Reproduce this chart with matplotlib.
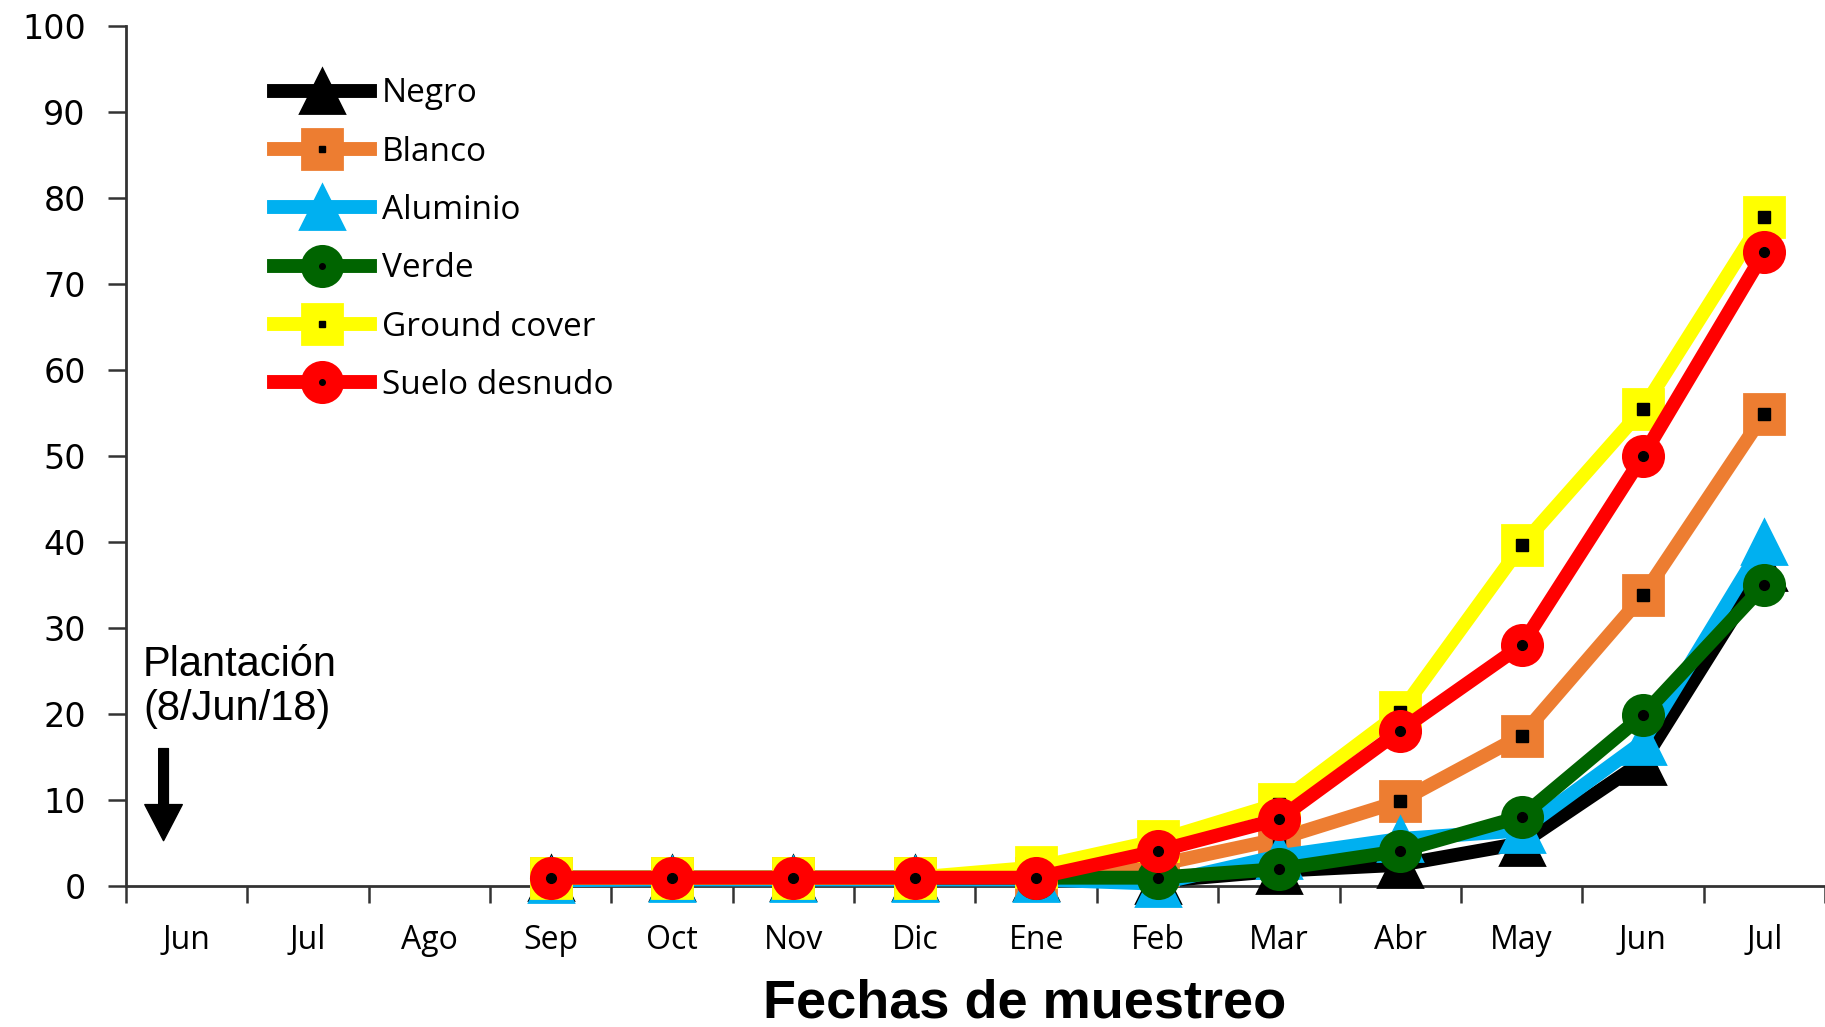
import matplotlib
matplotlib.use("Agg")
import matplotlib.pyplot as plt
from matplotlib.legend_handler import HandlerTuple

# meses de muestreo (eje x)
meses = ["Jun", "Jul", "Ago", "Sep", "Oct", "Nov", "Dic", "Ene",
         "Feb", "Mar", "Abr", "May", "Jun", "Jul"]
# los datos empiezan en Sep (indice 3)
x_datos = list(range(3, 14))

negro = [1, 1, 1, 1, 1, 0.6, 1.8, 2.5, 5.0, 14.5, 37]
blanco = [1, 1, 1, 1, 1, 2.5, 5.5, 9.9, 17.5, 33.8, 54.9]
aluminio = [0.7, 0.8, 0.8, 0.8, 0.8, 0.3, 3.5, 5.5, 6.5, 16.8, 40]
verde = [1, 1, 1, 1, 1, 1, 2.0, 4.1, 8.1, 19.9, 35]
ground_cover = [1, 1, 1, 1, 2.2, 5.3, 9.6, 20.2, 39.6, 55.5, 77.8]
suelo_desnudo = [1, 1, 1, 1, 1, 4.1, 7.8, 18.1, 28, 50, 73.7]

series = [
    ("Negro", negro, "black", "^", None),
    ("Blanco", blanco, "#ED7D31", "s", "s"),
    ("Aluminio", aluminio, "#00B0F0", "^", None),
    ("Verde", verde, "#006400", "o", "o"),
    ("Ground cover", ground_cover, "#FFFF00", "s", "s"),
    ("Suelo desnudo", suelo_desnudo, "#FF0000", "o", "o"),
]

fig = plt.figure(figsize=(18.25, 10.27), dpi=100)
ax = fig.add_axes([0.069, 0.137, 0.931, 0.838])

handles = []
for i, (nombre, valores, color, marca, centro) in enumerate(series):
    z = 3 + i
    ms = 29 if marca != "^" else 31
    linea, = ax.plot(x_datos, valores, color=color, lw=10, marker=marca,
                     ms=ms, mec=color, mew=2, zorder=z,
                     solid_joinstyle="round", clip_on=False)
    if centro is not None:
        cs = 8 if centro == "s" else 7
        ax.plot(x_datos, valores, ls="none", marker=centro, ms=cs,
                color="black", zorder=z + 0.5, clip_on=False)
        leg_punto, = ax.plot([], [], ls="none", marker=centro, ms=4,
                             color="black")
        handles.append((linea, leg_punto))
    else:
        handles.append((linea,))

nombres = [s[0] for s in series]
ax.legend(handles, nombres, handler_map={tuple: HandlerTuple(ndivide=1)},
          loc="upper left", bbox_to_anchor=(0.087, 0.94),
          frameon=False, handlelength=2.9, handletextpad=0.35,
          labelspacing=0.76, borderaxespad=0, borderpad=0,
          prop={"family": "Open Sans", "size": 24})

ax.set_xlim(-0.5, 13.5)
ax.set_ylim(0, 100)
ax.set_yticks(range(0, 101, 10))
ax.set_xticks(range(len(meses)))
ax.set_xticklabels(meses, family="Open Sans", fontsize=23)
ax.set_xticks([i - 0.5 for i in range(len(meses) + 1)], minor=True)
ax.tick_params(axis="x", which="major", length=0, pad=27)
ax.tick_params(axis="x", which="minor", length=12, width=1.8,
               color="#333333", direction="out")
ax.tick_params(axis="y", length=13, width=1.8, color="#333333", pad=16,
               labelsize=24)
for lab in ax.get_yticklabels():
    lab.set_family("DejaVu Sans")

for lado in ["top", "right"]:
    ax.spines[lado].set_visible(False)
for lado in ["left", "bottom"]:
    ax.spines[lado].set_color("#333333")
    ax.spines[lado].set_linewidth(2)

ax.set_xlabel("Fechas de muestreo", family="Liberation Sans",
              fontweight="bold", fontsize=39)
ax.xaxis.set_label_coords(0.529, -0.107)

ax.text(-0.36, 28.0, "Plantación\n(8/Jun/18)", family="Liberation Sans",
        fontsize=30, va="top", ha="left", linespacing=1.12)
ax.annotate("", xy=(-0.19, 5.3), xytext=(-0.19, 16),
            arrowprops=dict(arrowstyle="simple,head_length=1.3,head_width=1.35,tail_width=0.35",
                            mutation_scale=20, color="black",
                            shrinkA=0, shrinkB=0))

fig.savefig("out.png", dpi=100)
